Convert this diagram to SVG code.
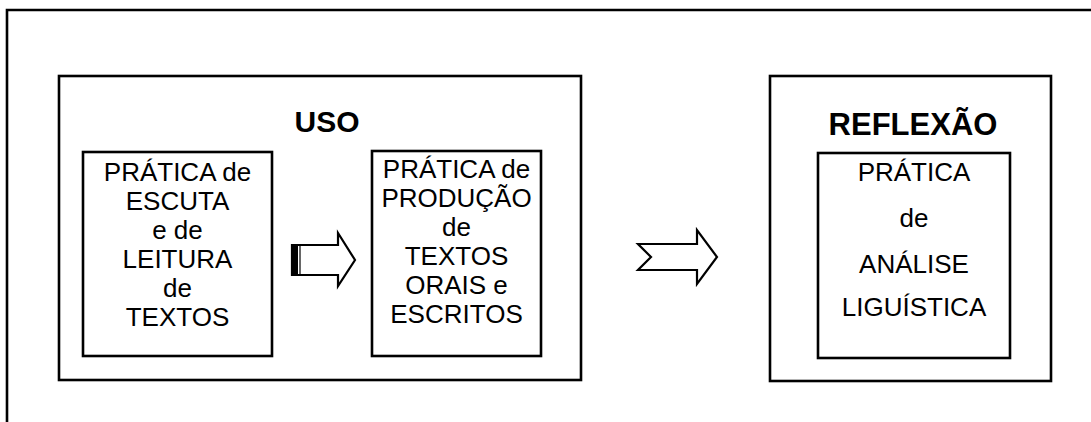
<svg xmlns="http://www.w3.org/2000/svg" width="1091" height="422" viewBox="0 0 1091 422">
<style>
.box{fill:#fff;stroke:#000;stroke-width:2.6}
.t{font-family:"Liberation Sans",Arial,sans-serif;font-size:26px;text-anchor:middle;fill:#000}
.h{font-family:"Liberation Sans",Arial,sans-serif;font-size:30px;font-weight:bold;text-anchor:middle;fill:#000}
.arr{fill:#fff;stroke:#000;stroke-width:2.2;stroke-linejoin:miter}
</style>
<rect width="1091" height="422" fill="#fff"/>
<g id="frame">
<path d="M7,422 V10 H1095" fill="none" stroke="#000" stroke-width="2.6"/>
</g>
<g id="uso">
<rect class="box" x="59" y="76" width="522" height="304"/>
<text class="h" x="327" y="132">USO</text>
</g>
<g id="escuta">
<rect class="box" x="83" y="152" width="189" height="204"/>
<text class="t" x="177.5" y="181">PRÁTICA de</text>
<text class="t" x="177.5" y="210">ESCUTA</text>
<text class="t" x="177.5" y="239">e de</text>
<text class="t" x="177.5" y="268">LEITURA</text>
<text class="t" x="177.5" y="297">de</text>
<text class="t" x="177.5" y="326">TEXTOS</text>
</g>
<g id="producao">
<rect class="box" x="372" y="151" width="169" height="205"/>
<text class="t" x="456.5" y="178">PRÁTICA de</text>
<text class="t" x="456.5" y="207">PRODUÇÃO</text>
<text class="t" x="456.5" y="236">de</text>
<text class="t" x="456.5" y="265">TEXTOS</text>
<text class="t" x="456.5" y="294">ORAIS e</text>
<text class="t" x="456.5" y="323">ESCRITOS</text>
</g>
<g id="reflexao">
<rect class="box" x="770" y="76" width="281" height="305"/>
<text class="h" x="913" y="135" style="font-size:31px">REFLEXÃO</text>
</g>
<g id="analise">
<rect class="box" x="818" y="153" width="192" height="205"/>
<text class="t" x="914" y="181">PRÁTICA</text>
<text class="t" x="914" y="227">de</text>
<text class="t" x="914" y="273">ANÁLISE</text>
<text class="t" x="914" y="316">LIGUÍSTICA</text>
</g>
<g id="connectors">
<path class="arr" d="M292,245 H338 V233 L355,260 L338,286 V275 H292 Z"/>
<rect x="292" y="245" width="6" height="30" fill="#000"/>
<line x1="300" y1="245" x2="300" y2="275" stroke="#000" stroke-width="1.2"/>
<path class="arr" d="M638,244 H697 V230 L717,257 L697,284 V270 H638 L651,257 Z"/>
</g>
</svg>
